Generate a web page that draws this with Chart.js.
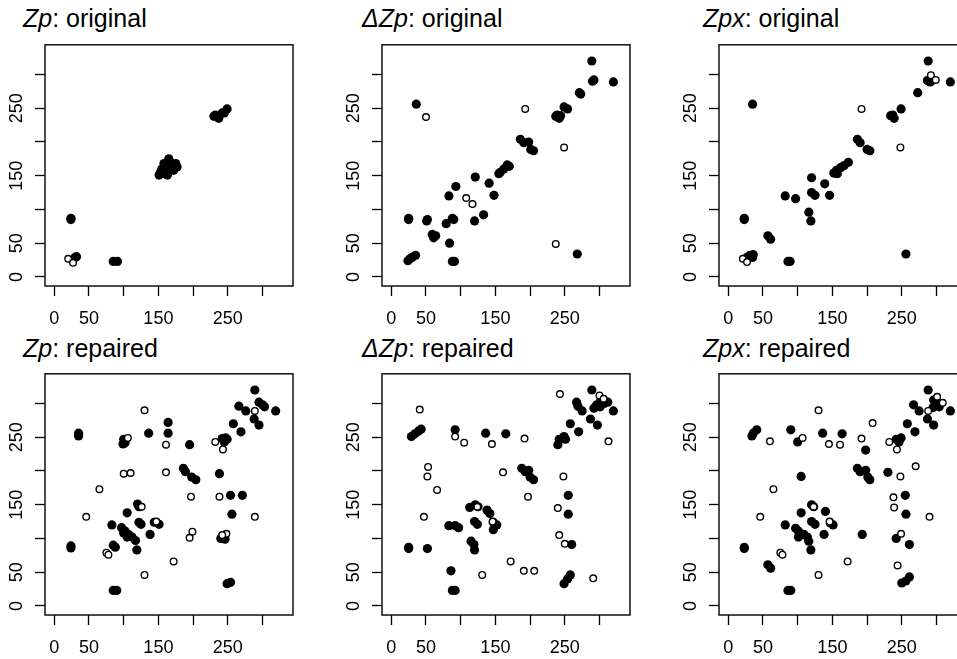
<!DOCTYPE html>
<html lang="en">
<head>
  <meta charset="UTF-8">
  <title>Zp / ΔZp / Zpx: original vs repaired</title>
  <script src="https://cdn.jsdelivr.net/npm/chart.js"></script>
  <style>
    html, body { margin: 0; padding: 0; background: #fff; }
    body {
      width: 957px; height: 659px; position: relative; overflow: hidden;
      font-family: "Liberation Sans", Arial, Helvetica, sans-serif;
    }
    canvas { position: absolute; }
    .title {
      position: absolute; font-size: 25px; line-height: 25px;
      color: #000; white-space: nowrap;
    }
  </style>
</head>
<body>
  <!-- titles -->
  <div class="title" style="left:23px;top:5.5px"><i>Zp</i>: original</div>
  <div class="title" style="left:362px;top:5.5px"><i>ΔZp</i>: original</div>
  <div class="title" style="left:703px;top:5.5px"><i>Zpx</i>: original</div>
  <div class="title" style="left:23px;top:335.5px"><i>Zp</i>: repaired</div>
  <div class="title" style="left:362px;top:335.5px"><i>ΔZp</i>: repaired</div>
  <div class="title" style="left:703px;top:335.5px"><i>Zpx</i>: repaired</div>

  <canvas id="zpOrig" width="303" height="300" style="left:0px;top:31px"></canvas>
  <canvas id="dzpOrig" width="303" height="300" style="left:337px;top:31px"></canvas>
  <canvas id="zpxOrig" width="303" height="300" style="left:674px;top:31px"></canvas>
  <canvas id="zpRep" width="303" height="300" style="left:0px;top:360px"></canvas>
  <canvas id="dzpRep" width="303" height="300" style="left:337px;top:360px"></canvas>
  <canvas id="zpxRep" width="303" height="300" style="left:674px;top:360px"></canvas>

  <script>
    // axis range and labelled ticks (R drops overlapping labels)
    const axisMin = -13.4;
    const axisMax = 344;
    const tickStep = 50;
    const shownTicks = [0, 50, 150, 250];

    // [x, y] pairs; filled = solid dots, open = hollow circles
    const zpOrigFilled = [[30,29],[32,30],[24,87],[24,85],[85,23],[91,23],[153,155],[155,160],[163,163],
      [167,170],[175,168],[177,163],[172,158],[160,153],[151,151],[165,175],[158,168],[163,151],[157,158],
      [170,165],[232,240],[237,235],[242,243],[249,249],[230,238],[245,243]];
    const zpOrigOpen = [[20,27],[27,21]];

    const dzpOrigFilled = [[36,256],[289,320],[292,292],[290,290],[320,289],[271,273],[273,271],[249,252],
      [254,249],[237,238],[242,235],[239,240],[244,239],[186,204],[191,199],[198,200],[201,189],[205,187],
      [157,155],[162,160],[167,166],[170,164],[155,153],[121,148],[141,139],[148,121],[133,92],[120,83],
      [93,134],[83,120],[88,87],[90,85],[79,79],[52,85],[51,83],[25,87],[25,85],[64,61],[59,63],[61,58],
      [84,50],[88,23],[91,23],[35,32],[27,27],[24,24],[30,29],[268,34]];
    const dzpOrigOpen = [[50,237],[193,249],[249,192],[108,117],[117,108],[237,49]];

    const zpxOrigFilled = [[35,256],[288,320],[287,291],[291,289],[295,292],[320,289],[273,273],[249,249],
      [234,239],[239,235],[237,240],[186,204],[190,199],[200,189],[204,187],[173,170],[167,165],[162,162],
      [156,158],[152,154],[157,153],[120,147],[139,138],[120,125],[125,121],[146,121],[116,96],[119,83],
      [97,116],[82,120],[23,87],[23,85],[57,61],[61,56],[86,23],[89,23],[31,32],[27,29],[35,29],[36,33],
      [256,34]];
    const zpxOrigOpen = [[192,249],[248,192],[21,27],[27,22],[292,299],[299,292]];

    const zpRepFilled = [[35,256],[35,252],[289,320],[266,296],[276,289],[295,302],[300,298],[303,295],
      [319,289],[288,277],[295,268],[258,270],[269,258],[242,248],[247,249],[249,247],[245,243],[164,272],
      [164,256],[136,256],[195,239],[100,247],[102,242],[99,240],[186,204],[189,199],[198,191],[204,187],
      [238,196],[254,164],[271,164],[256,136],[120,151],[122,147],[105,138],[122,124],[125,121],[83,120],
      [144,124],[151,121],[138,106],[97,116],[102,111],[107,106],[112,102],[117,97],[105,102],[100,108],
      [88,87],[85,90],[119,83],[24,86],[24,89],[85,23],[90,23],[249,33],[254,35],[240,100],[246,99]];
    const zpRepOpen = [[130,290],[106,249],[161,239],[232,243],[243,232],[289,289],[100,196],[110,197],
      [161,198],[65,173],[197,162],[238,162],[46,132],[289,132],[199,110],[195,101],[248,107],[242,105],
      [75,79],[78,76],[172,66],[130,46],[126,147],[147,125]];

    const dzpRepFilled = [[29,251],[34,255],[39,259],[43,262],[92,261],[136,256],[165,255],[289,320],
      [267,302],[269,296],[275,289],[292,293],[296,298],[302,305],[307,300],[301,295],[312,302],[320,289],
      [287,277],[297,268],[258,270],[270,258],[242,247],[247,248],[249,251],[240,239],[251,247],[188,204],
      [193,199],[198,201],[200,191],[205,187],[255,164],[255,136],[260,91],[258,46],[254,40],[249,33],
      [113,146],[121,150],[125,147],[138,142],[142,137],[120,125],[124,121],[147,124],[152,120],[147,113],
      [83,119],[92,119],[97,116],[115,96],[119,91],[120,83],[25,87],[25,85],[52,85],[86,52],[88,23],[92,23]];
    const dzpRepOpen = [[41,291],[92,251],[105,242],[145,240],[192,248],[243,314],[300,312],[306,307],
      [313,244],[53,206],[52,192],[66,172],[161,198],[197,162],[248,192],[47,132],[240,145],[242,105],
      [250,92],[172,66],[191,52],[206,52],[131,46],[291,41],[124,147],[146,125]];

    const zpxRepFilled = [[34,252],[36,256],[41,261],[90,261],[100,243],[136,256],[164,255],[198,231],
      [288,320],[267,298],[275,289],[296,305],[300,300],[304,295],[295,294],[320,289],[287,277],[296,268],
      [258,270],[269,258],[242,247],[249,249],[246,243],[105,192],[186,204],[190,199],[198,201],[201,191],
      [204,187],[230,198],[255,164],[256,136],[261,91],[242,100],[261,43],[256,37],[250,34],[193,106],
      [82,120],[97,115],[101,111],[104,105],[109,106],[114,102],[116,96],[101,102],[105,138],[120,150],
      [123,147],[140,140],[120,125],[125,121],[147,123],[151,120],[138,106],[119,83],[23,87],[23,85],
      [57,61],[61,56],[86,23],[90,23]];
    const zpxRepOpen = [[130,290],[107,249],[60,244],[145,240],[161,239],[192,248],[208,271],[232,243],
      [243,232],[288,289],[301,310],[309,301],[270,207],[248,192],[65,173],[238,161],[239,146],[46,132],
      [290,132],[249,107],[75,79],[78,76],[172,66],[244,60],[130,46],[123,147],[146,125]];

    const tickFont = { family: '"Liberation Sans", Arial, Helvetica, sans-serif', size: 18 };

    // box round the plotting region, like R's bty="o"
    const frame = {
      id: 'frame',
      afterDatasetsDraw(chart) {
        const { ctx, chartArea: a } = chart;
        ctx.save();
        ctx.strokeStyle = '#111';
        ctx.lineWidth = 1.5;
        ctx.strokeRect(a.left, a.top, a.right - a.left, a.bottom - a.top);
        ctx.restore();
      }
    };

    function axis(isX) {
      return {
        type: 'linear',
        position: isX ? 'bottom' : 'left',
        min: axisMin,
        max: axisMax,
        afterFit: s => { if (isX) s.height = 45; else s.width = 45; },
        border: { display: false },
        grid: { drawOnChartArea: false, drawTicks: true, tickLength: 10, tickColor: '#000', tickWidth: 1.3 },
        ticks: {
          stepSize: tickStep,
          includeBounds: false,
          autoSkip: false,
          color: '#000',
          font: tickFont,
          padding: isX ? 12 : 3,
          minRotation: isX ? 0 : 90,
          maxRotation: isX ? 0 : 90,
          crossAlign: isX ? 'near' : 'center',
          callback: v => shownTicks.includes(v) ? String(v) : ''
        }
      };
    }

    function makePanel(id, filled, open) {
      const toPts = arr => arr.map(p => ({ x: p[0], y: p[1] }));
      new Chart(document.getElementById(id), {
        type: 'scatter',
        data: {
          datasets: [
            { data: toPts(open), pointRadius: 3.3, pointBorderWidth: 1.4,
              pointBackgroundColor: '#fff', pointBorderColor: '#000' },
            { data: toPts(filled), pointRadius: 4.6, pointBorderWidth: 0,
              pointBackgroundColor: '#000', pointBorderColor: '#000' }
          ]
        },
        options: {
          responsive: false,
          animation: false,
          devicePixelRatio: 1,
          layout: { padding: { left: 0, top: 10, right: 10, bottom: 0 } },
          plugins: { legend: { display: false }, tooltip: { enabled: false } },
          scales: { x: axis(true), y: axis(false) }
        },
        plugins: [frame]
      });
    }

    makePanel('zpOrig', zpOrigFilled, zpOrigOpen);
    makePanel('dzpOrig', dzpOrigFilled, dzpOrigOpen);
    makePanel('zpxOrig', zpxOrigFilled, zpxOrigOpen);
    makePanel('zpRep', zpRepFilled, zpRepOpen);
    makePanel('dzpRep', dzpRepFilled, dzpRepOpen);
    makePanel('zpxRep', zpxRepFilled, zpxRepOpen);
  </script>
</body>
</html>
